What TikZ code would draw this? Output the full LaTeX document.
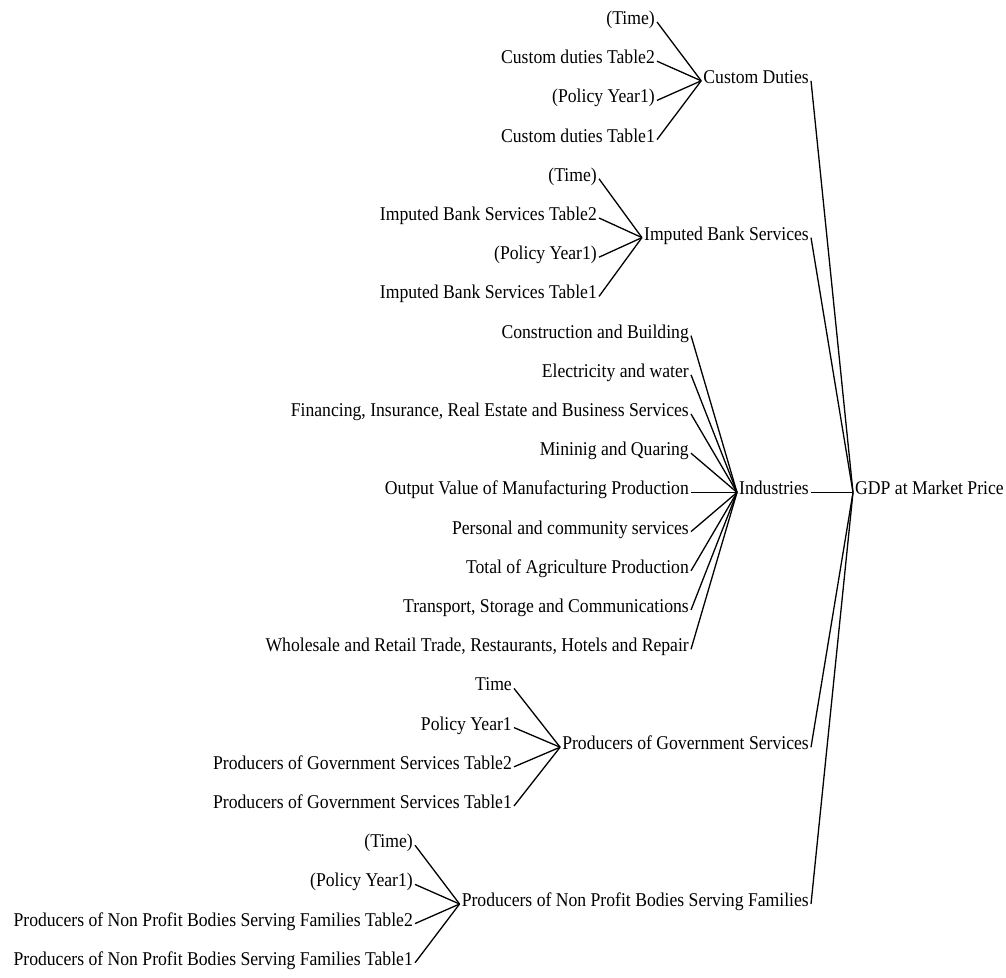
\documentclass[tikz,border=0pt]{standalone}
\usepackage{fontspec}
\setmainfont{Liberation Serif}[FakeStretch=0.905]
\begin{document}
\begin{tikzpicture}[x=1pt,y=-1pt,
  lbl/.style={inner sep=2pt, font=\fontsize{19.5}{22}\selectfont,
              text height=0.68em, text depth=0.2em},
  cause/.style={lbl, anchor=east},
  var/.style={lbl, anchor=east},
  top/.style={lbl, anchor=west},
  link/.style={line width=1.3pt, black}]
\useasboundingbox (0,0) rectangle (1006,977);

% final variable
\node[top] (gdp) at (853,492.4) {GDP at Market Price};

% intermediate variables, right aligned
\node[var] (cd)  at (811,80.8)  {Custom Duties};
\node[var] (ib)  at (811,237.6) {Imputed Bank Services};
\node[var] (ind) at (811,492.4) {Industries};
\node[var] (pg)  at (811,747.2) {Producers of Government Services};
\node[var] (pn)  at (811,904)   {Producers of Non Profit Bodies Serving Families};

% causes of Custom Duties
\node[cause] (cd1) at (657,22)    {(Time)};
\node[cause] (cd2) at (657,61.2)  {Custom duties Table2};
\node[cause] (cd3) at (657,100.4) {(Policy Year1)};
\node[cause] (cd4) at (657,139.6) {Custom duties Table1};

% causes of Imputed Bank Services
\node[cause] (ib1) at (599,178.8) {(Time)};
\node[cause] (ib2) at (599,218)   {Imputed Bank Services Table2};
\node[cause] (ib3) at (599,257.2) {(Policy Year1)};
\node[cause] (ib4) at (599,296.4) {Imputed Bank Services Table1};

% causes of Industries
\node[cause] (in1) at (691,335.6) {Construction and Building};
\node[cause] (in2) at (691,374.8) {Electricity and water};
\node[cause] (in3) at (691,414)   {Financing, Insurance, Real Estate and Business Services};
\node[cause] (in4) at (691,453.2) {Mininig and Quaring};
\node[cause] (in5) at (691,492.4) {Output Value of Manufacturing Production};
\node[cause] (in6) at (691,531.6) {Personal and community services};
\node[cause] (in7) at (691,570.8) {Total of Agriculture Production};
\node[cause] (in8) at (691,610)   {Transport, Storage and Communications};
\node[cause] (in9) at (691,649.2) {Wholesale and Retail Trade, Restaurants, Hotels and Repair};

% causes of Producers of Government Services
\node[cause] (pg1) at (514,688.4) {Time};
\node[cause] (pg2) at (514,727.6) {Policy Year1};
\node[cause] (pg3) at (514,766.8) {Producers of Government Services Table2};
\node[cause] (pg4) at (514,806)   {Producers of Government Services Table1};

% causes of Producers of Non Profit Bodies Serving Families
\node[cause] (pn1) at (415,845.2) {(Time)};
\node[cause] (pn2) at (415,884.4) {(Policy Year1)};
\node[cause] (pn3) at (415,923.6) {Producers of Non Profit Bodies Serving Families Table2};
\node[cause] (pn4) at (415,962.8) {Producers of Non Profit Bodies Serving Families Table1};

% connectors
\foreach \c in {cd1,cd2,cd3,cd4} \draw[link] (\c.east) -- (cd.west);
\foreach \c in {ib1,ib2,ib3,ib4} \draw[link] (\c.east) -- (ib.west);
\foreach \c in {in1,in2,in3,in4,in5,in6,in7,in8,in9} \draw[link] (\c.east) -- (ind.west);
\foreach \c in {pg1,pg2,pg3,pg4} \draw[link] (\c.east) -- (pg.west);
\foreach \c in {pn1,pn2,pn3,pn4} \draw[link] (\c.east) -- (pn.west);
\foreach \c in {cd,ib,ind,pg,pn} \draw[link] (\c.east) -- (gdp.west);
\end{tikzpicture}
\end{document}
